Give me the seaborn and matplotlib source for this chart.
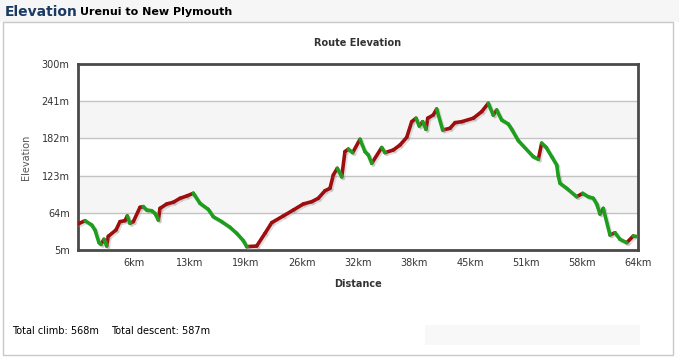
import numpy as np
import pandas as pd
import matplotlib
matplotlib.use("Agg")
import matplotlib.pyplot as plt
import matplotlib.patheffects as pe
from matplotlib.patches import Rectangle
import seaborn as sns

# -------------------------------
# Data
# -------------------------------
distance_km = [0.0, 0.8, 1.57, 1.94, 2.4, 2.63, 2.97, 3.28, 3.46, 4.34, 4.8, 5.37,
               5.63, 5.94, 6.32, 7.09, 7.46, 7.85, 8.42, 8.8, 9.18, 9.37, 10.14,
               10.89, 11.66, 12.42, 13.18, 13.94, 14.89, 15.46, 16.42, 17.37,
               18.14, 18.89, 19.28, 20.42, 21.37, 22.14, 23.46, 24.61, 25.75,
               26.71, 27.46, 28.23, 28.8, 29.18, 29.63, 30.14, 30.51, 30.89,
               31.39, 32.23, 32.8, 33.18, 33.57, 34.71, 35.09, 36.03, 36.8,
               37.57, 38.14, 38.63, 39.0, 39.39, 39.77, 39.97, 40.6, 40.99,
               41.68, 42.51, 43.09, 43.85, 45.18, 46.14, 46.89, 47.46, 47.85,
               48.42, 49.18, 49.57, 50.32, 52.03, 52.61, 52.99, 53.49, 54.14,
               54.71, 54.89, 55.09, 55.85, 56.99, 57.68, 58.32, 58.89, 59.28,
               59.66, 60.03, 60.8, 61.37, 61.94, 62.71, 63.46, 64.0]
elevation_m = [46.2, 51.5, 44.6, 36.7, 16.6, 14.0, 22.0, 11.3, 26.7, 36.7, 50.0, 51.5,
               59.0, 47.3, 50.0, 72.7, 73.8, 68.4, 67.3, 63.0, 52.6, 71.0, 78.0,
               80.7, 87.0, 90.6, 95.0, 79.0, 69.4, 57.8, 50.0, 41.0,
               31.4, 19.8, 10.3, 11.3, 31.4, 48.4, 59.0, 68.4, 78.0,
               81.6, 87.0, 99.0, 102.8, 124.0, 134.6, 121.0, 161.0, 165.0,
               159.4, 180.6, 161.0, 155.7, 142.5, 167.5, 159.4, 163.6, 171.5,
               183.7, 208.5, 214.0, 201.7, 208.5, 196.4, 214.0, 219.1, 228.6,
               195.3, 198.0, 207.0, 208.5, 214.0, 224.5, 237.7, 219.0, 227.0,
               211.2, 204.8, 196.4, 178.4, 153.0, 149.0, 174.4, 168.0, 153.0,
               139.8, 122.4, 110.7, 102.8, 89.5, 94.8, 89.5, 87.0, 78.0,
               62.1, 71.0, 28.8, 32.4, 22.0, 16.6, 27.2, 26.1]

y_ticks = [5, 64, 123, 182, 241, 300]
y_tick_labels = ["5m", "64m", "123m", "182m", "241m", "300m"]
x_ticks = [6.4, 12.8, 19.2, 25.6, 32.0, 38.4, 44.8, 51.2, 57.6, 64.0]
x_tick_labels = ["6km", "13km", "19km", "26km", "32km", "38km",
                 "45km", "51km", "58km", "64km"]

total_climb = "568m"
total_descent = "587m"

# -------------------------------
# Build segment table (climb = red, descent = green)
# -------------------------------
rows = []
for i in range(len(distance_km) - 1):
    kind = "up" if elevation_m[i + 1] >= elevation_m[i] else "down"
    rows.append((i, kind, distance_km[i], elevation_m[i]))
    rows.append((i, kind, distance_km[i + 1], elevation_m[i + 1]))
seg = pd.DataFrame(rows, columns=["seg", "kind", "km", "m"])

# -------------------------------
# Figure
# -------------------------------
sns.set_style("white")
plt.rcParams["font.family"] = ["DejaVu Sans"]

fig = plt.figure(figsize=(6.79, 3.58), dpi=100)
fig.patch.set_facecolor("white")

# header strip + panel frame (behind the axes)
fig.patches.append(Rectangle((0, 1 - 22 / 358), 1, 22 / 358, transform=fig.transFigure,
                             facecolor="#f6f6f6", edgecolor="none", zorder=-10))
fig.patches.append(Rectangle((3 / 679, 3 / 358), 670 / 679, 333 / 358,
                             transform=fig.transFigure, facecolor="white",
                             edgecolor="#c8c8c8", linewidth=1, zorder=-10))
fig.patches.append(Rectangle((425 / 679, 1 - 345 / 358), 215 / 679, 20 / 358,
                             transform=fig.transFigure, facecolor="#f8f8f8",
                             edgecolor="none", zorder=-9))

fig.text(5 / 679, 1 - 12 / 358, "Elevation", color="#1b3b63", fontsize=10,
         fontweight="bold", va="center", ha="left")
fig.text(80 / 679, 1 - 12 / 358, "Urenui to New Plymouth", color="black",
         fontsize=8, fontweight="bold", va="center", ha="left")

ax = fig.add_axes([78 / 679, 1 - 250 / 358, 560 / 679, 186 / 358])
ax.set_zorder(5)

# alternating bands
ax.axhspan(64, 123, color="#f5f5f5", zorder=0)
ax.axhspan(182, 241, color="#f5f5f5", zorder=0)
for yv in y_ticks[1:-1]:
    ax.axhline(yv, color="#c4c4c4", linewidth=1, zorder=1)

sns.lineplot(data=seg, x="km", y="m", hue="kind", units="seg", estimator=None,
             palette={"up": "#9e0e0e", "down": "#1d9e1d"}, linewidth=2.6,
             legend=False, ax=ax, zorder=3,
             path_effects=[pe.SimpleLineShadow(offset=(1.2, -1.2), shadow_color="#999999",
                                               alpha=0.3), pe.Normal()])
for line in ax.lines:
    line.set_solid_capstyle("round")

ax.set_xlim(0, 64)
ax.set_ylim(5, 300)
ax.set_yticks(y_ticks)
ax.set_yticklabels(y_tick_labels)
ax.set_xticks(x_ticks)
ax.set_xticklabels(x_tick_labels)
ax.tick_params(length=0, labelsize=7, colors="#333333", pad=6)

for s in ax.spines.values():
    s.set_visible(True)
    s.set_color("#4a4a4a")
    s.set_linewidth(2)

ax.set_title("Route Elevation", fontsize=7, fontweight="bold", color="#333333", pad=13)
ax.set_xlabel("Distance", fontsize=7, fontweight="bold", color="#333333", labelpad=8)
ax.set_ylabel("Elevation", fontsize=7, color="#555555", labelpad=8)

fig.text(12 / 679, 1 - 331 / 358, f"Total climb: {total_climb}", fontsize=7,
         color="black", va="center", ha="left")
fig.text(111 / 679, 1 - 331 / 358, f"Total descent: {total_descent}", fontsize=7,
         color="black", va="center", ha="left")

fig.savefig("out.png", dpi=100)
